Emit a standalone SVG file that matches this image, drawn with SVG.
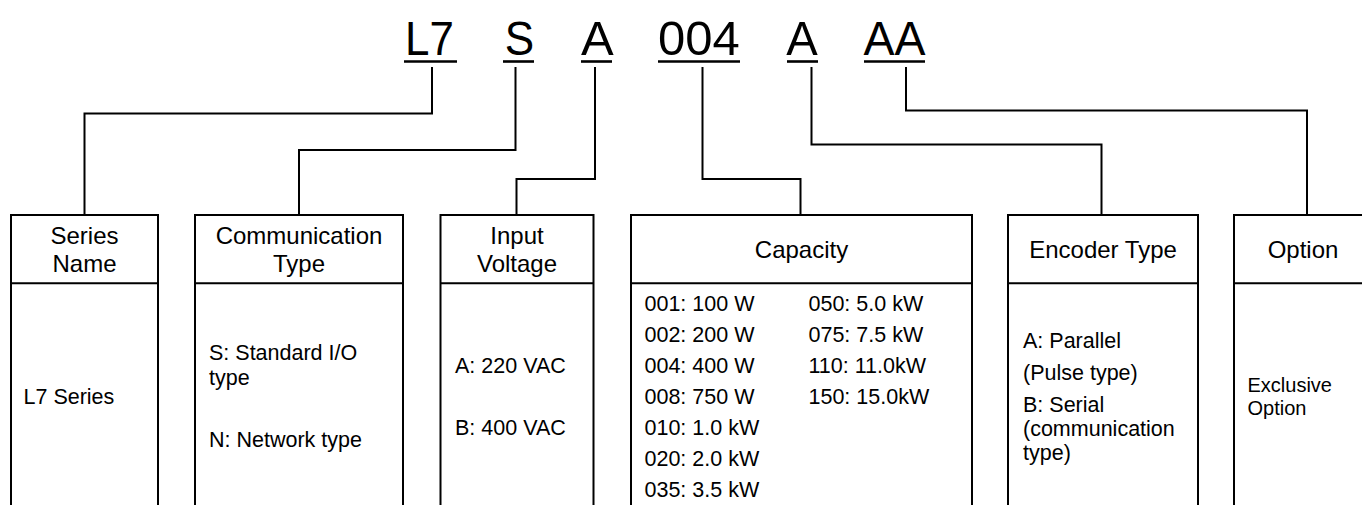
<svg xmlns="http://www.w3.org/2000/svg" width="1362" height="505" viewBox="0 0 1362 505">
<style>
.ln{fill:none;stroke:#000;stroke-width:2}
.ul{stroke:#000;stroke-width:2.6}
.code{font-family:"Liberation Sans",Arial,sans-serif;font-size:49px;fill:#000}
.hd{font-family:"Liberation Sans",Arial,sans-serif;font-size:24px;fill:#000;text-anchor:middle}
.bd{font-family:"Liberation Sans",Arial,sans-serif;font-size:21.5px;fill:#000}
.bs{font-family:"Liberation Sans",Arial,sans-serif;font-size:20px;fill:#000}
</style>
<rect width="1362" height="505" fill="#fff"/>
<g id="code">
<text class="code" x="405.1" y="55" textLength="48.8" lengthAdjust="spacingAndGlyphs">L7</text>
<text class="code" x="504.7" y="55" textLength="29.4" lengthAdjust="spacingAndGlyphs">S</text>
<text class="code" x="581" y="55">A</text>
<text class="code" x="658" y="55">004</text>
<text class="code" x="786.3" y="55" textLength="31.5" lengthAdjust="spacingAndGlyphs">A</text>
<text class="code" x="863.5" y="55" textLength="62" lengthAdjust="spacingAndGlyphs">AA</text>
<line class="ul" x1="404" y1="61.5" x2="457" y2="61.5"/>
<line class="ul" x1="503" y1="61.5" x2="534" y2="61.5"/>
<line class="ul" x1="581" y1="61.5" x2="612" y2="61.5"/>
<line class="ul" x1="658" y1="61.5" x2="740" y2="61.5"/>
<line class="ul" x1="787" y1="61.5" x2="818" y2="61.5"/>
<line class="ul" x1="864" y1="61.5" x2="925" y2="61.5"/>
</g>
<g id="connectors">
<path class="ln" d="M432,67 V113.5 H84.5 V215"/>
<path class="ln" d="M515.5,67 V150 H299 V215"/>
<path class="ln" d="M595,67 V179 H516.5 V215"/>
<path class="ln" d="M702.5,67 V179 H800.5 V215"/>
<path class="ln" d="M811.5,67 V144.5 H1101.5 V215"/>
<path class="ln" d="M906,67 V110.5 H1307 V215"/>
</g>
<g id="series">
<path class="ln" d="M11,510 V215 H158 V510 M11,283.3 H158"/>
<text class="hd" x="84.5" y="244">Series</text>
<text class="hd" x="84.5" y="272">Name</text>
<text class="bd" x="23.5" y="404">L7 Series</text>
</g>
<g id="communication">
<path class="ln" d="M195,510 V215 H403 V510 M195,283.3 H403"/>
<text class="hd" x="299" y="243.5">Communication</text>
<text class="hd" x="299" y="271.7">Type</text>
<text class="bd" x="209" y="360">S: Standard I/O</text>
<text class="bd" x="209" y="385">type</text>
<text class="bd" x="209" y="447">N: Network type</text>
</g>
<g id="input">
<path class="ln" d="M440.5,510 V215 H593.5 V510 M440.5,283.3 H593.5"/>
<text class="hd" x="517" y="243.5">Input</text>
<text class="hd" x="517" y="271.7">Voltage</text>
<text class="bd" x="455" y="373">A: 220 VAC</text>
<text class="bd" x="455" y="435">B: 400 VAC</text>
</g>
<g id="capacity">
<path class="ln" d="M631,510 V215 H972 V510 M631,283.3 H972"/>
<text class="hd" x="801.5" y="258.3">Capacity</text>
<text class="bd" x="644.5" y="311">001: 100 W</text>
<text class="bd" x="644.5" y="342">002: 200 W</text>
<text class="bd" x="644.5" y="373">004: 400 W</text>
<text class="bd" x="644.5" y="404">008: 750 W</text>
<text class="bd" x="644.5" y="435">010: 1.0 kW</text>
<text class="bd" x="644.5" y="466">020: 2.0 kW</text>
<text class="bd" x="644.5" y="497">035: 3.5 kW</text>
<text class="bd" x="808.5" y="311">050: 5.0 kW</text>
<text class="bd" x="808.5" y="342">075: 7.5 kW</text>
<text class="bd" x="808.5" y="373">110: 11.0kW</text>
<text class="bd" x="808.5" y="404">150: 15.0kW</text>
</g>
<g id="encoder">
<path class="ln" d="M1008,510 V215 H1198 V510 M1008,283.3 H1198"/>
<text class="hd" x="1103" y="258.3">Encoder Type</text>
<text class="bd" x="1023" y="348">A: Parallel</text>
<text class="bd" x="1023" y="380">(Pulse type)</text>
<text class="bd" x="1023" y="411.5">B: Serial</text>
<text class="bd" x="1023" y="435.5">(communication</text>
<text class="bd" x="1023" y="459.5">type)</text>
</g>
<g id="option">
<path class="ln" d="M1234,510 V215 H1375 M1234,283.3 H1375"/>
<text class="hd" x="1303" y="258.3">Option</text>
<text class="bs" x="1247.5" y="391.7">Exclusive</text>
<text class="bs" x="1247.5" y="415">Option</text>
</g>
</svg>
